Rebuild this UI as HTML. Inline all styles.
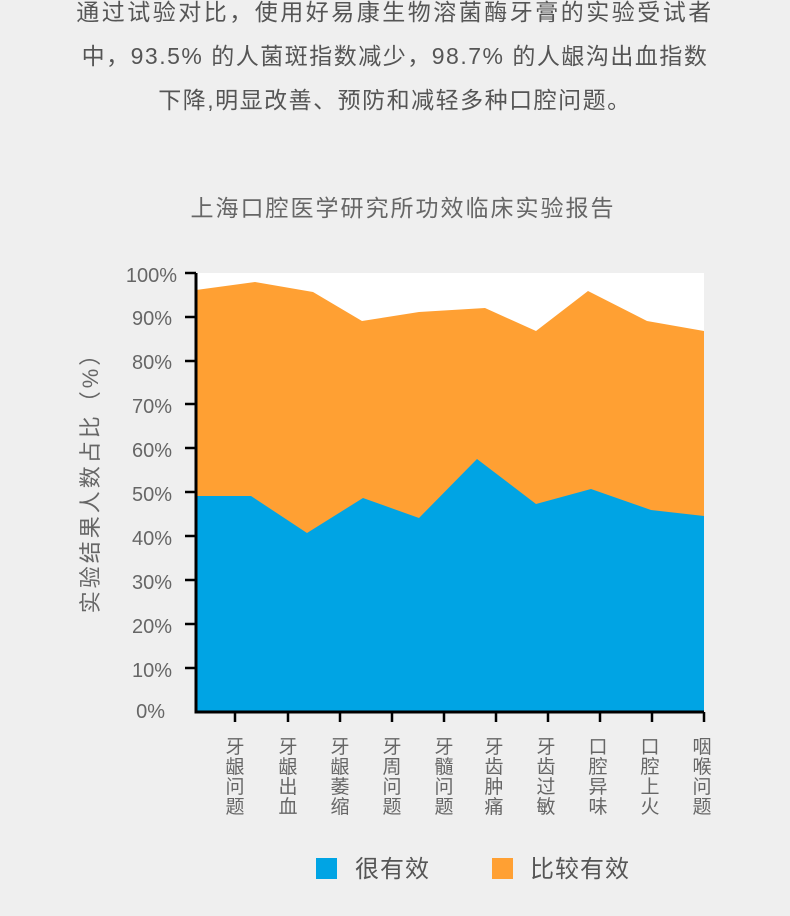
<!DOCTYPE html>
<html><head><meta charset="utf-8"><style>
body{margin:0;width:790px;height:916px;background:#efefef;overflow:hidden;font-family:"Liberation Sans","Noto Sans CJK SC",sans-serif;}
.p{position:absolute;left:0;width:790px;text-align:center;color:#555;font-size:23px;letter-spacing:1.5px;}
</style></head><body>
<div class="p" style="top:-10px;line-height:44px"><span style="letter-spacing:2.5px">通过试验对比，使用好易康生物溶菌酶牙膏的实验受试者</span><br>中，93.5% 的人菌斑指数减少，98.7% 的人龈沟出血指数<br>下降,明显改善、预防和减轻多种口腔问题。</div>
<div class="p" style="top:189px;left:8px;font-size:23px;letter-spacing:2px;color:#666">上海口腔医学研究所功效临床实验报告</div>
<svg width="790" height="916" style="position:absolute;left:0;top:0" font-family="Liberation Sans, Noto Sans CJK SC, sans-serif">
<rect x="196" y="273" width="508" height="439" fill="#fff"/>
<polygon fill="#ffa033" points="196,290 255,282 313,292 362,321 419,312 485,308 536,331 588,291 647,321 704,331 704,712 196,712"/>
<polygon fill="#00a4e4" points="196,496 251,496 307,533 363,498 419,518 477,459 536,504 591,489 651,510 704,516 704,712 196,712"/>
<g stroke="#000" stroke-width="3" fill="none"><path d="M196,273V712H704"/></g>
<g stroke="#000" stroke-width="2.5">
<path d="M185,273h11M185,317h11M185,361h11M185,404h11M185,448h11M185,492h11M185,536h11M185,580h11M185,624h11M185,668h11"/>
<path d="M235,712v10M288,712v10M340,712v10M392,712v10M444,712v10M496,712v10M548,712v10M600,712v10M652,712v10M704,712v10"/>
</g>
<g fill="#666" font-size="20" text-anchor="end">
<text x="177" y="282">100%</text><text x="172" y="325">90%</text><text x="172" y="369">80%</text><text x="172" y="413">70%</text><text x="172" y="457">60%</text><text x="172" y="501">50%</text><text x="172" y="545">40%</text><text x="172" y="589">30%</text><text x="172" y="633">20%</text><text x="172" y="677">10%</text><text x="165" y="718">0%</text>
</g>
<text transform="translate(98,477) rotate(-90)" fill="#666" font-size="22" letter-spacing="3" text-anchor="middle">实验结果人数占比（%）</text>
<g fill="#666" font-size="19" text-anchor="middle">
<text x="235" y="753">牙</text><text x="235" y="773">龈</text><text x="235" y="793">问</text><text x="235" y="813">题</text>
<text x="288" y="753">牙</text><text x="288" y="773">龈</text><text x="288" y="793">出</text><text x="288" y="813">血</text>
<text x="340" y="753">牙</text><text x="340" y="773">龈</text><text x="340" y="793">萎</text><text x="340" y="813">缩</text>
<text x="392" y="753">牙</text><text x="392" y="773">周</text><text x="392" y="793">问</text><text x="392" y="813">题</text>
<text x="444" y="753">牙</text><text x="444" y="773">髓</text><text x="444" y="793">问</text><text x="444" y="813">题</text>
<text x="494" y="753">牙</text><text x="494" y="773">齿</text><text x="494" y="793">肿</text><text x="494" y="813">痛</text>
<text x="546" y="753">牙</text><text x="546" y="773">齿</text><text x="546" y="793">过</text><text x="546" y="813">敏</text>
<text x="598" y="753">口</text><text x="598" y="773">腔</text><text x="598" y="793">异</text><text x="598" y="813">味</text>
<text x="650" y="753">口</text><text x="650" y="773">腔</text><text x="650" y="793">上</text><text x="650" y="813">火</text>
<text x="702" y="753">咽</text><text x="702" y="773">喉</text><text x="702" y="793">问</text><text x="702" y="813">题</text>
</g>
<rect x="316" y="858" width="21" height="21" fill="#00a4e4"/>
<text x="355" y="877" fill="#555" font-size="24" letter-spacing="1">很有效</text>
<rect x="492" y="858" width="21" height="21" fill="#ffa033"/>
<text x="530" y="877" fill="#555" font-size="24" letter-spacing="1">比较有效</text>
</svg>
</body></html>
